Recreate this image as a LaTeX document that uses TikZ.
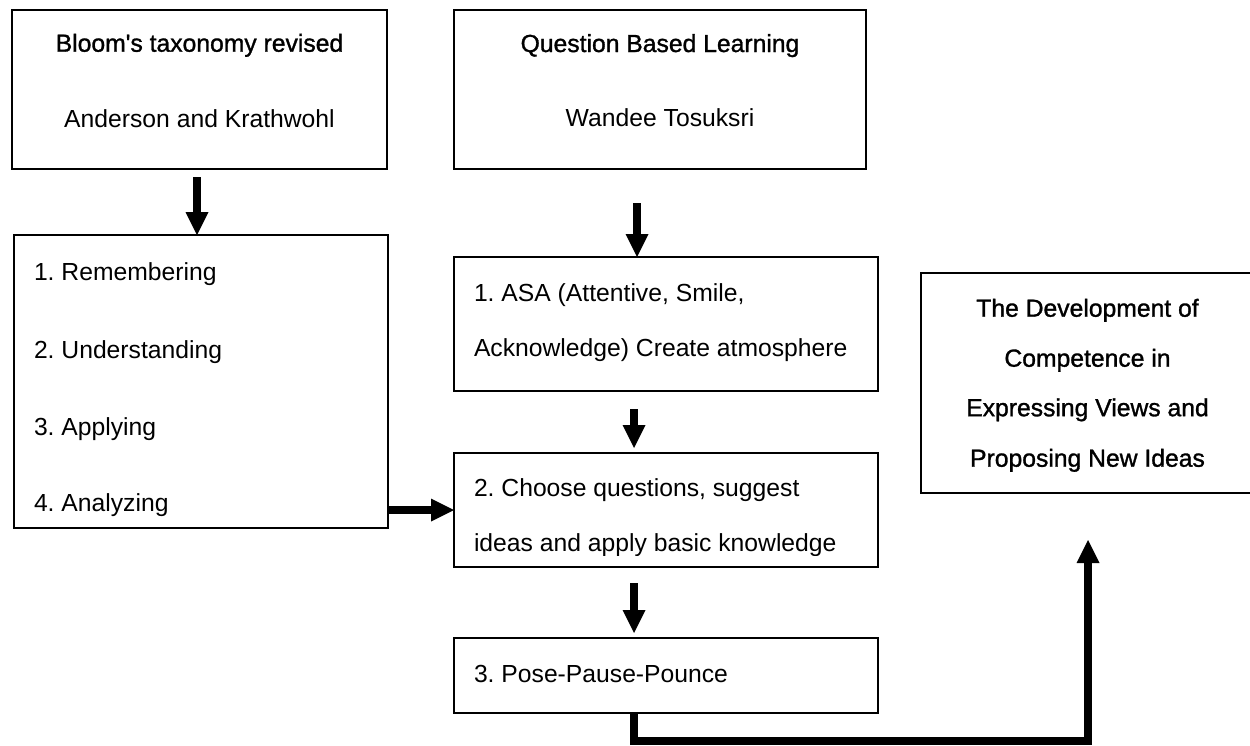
\documentclass[tikz,border=0pt]{standalone}
\usepackage{fontspec}
\setmainfont{Liberation Sans}
\newfontfamily\boldish{Liberation Sans}[FakeBold=1.2]
\usetikzlibrary{arrows.meta,calc}
\frenchspacing
\begin{document}
\begin{tikzpicture}[x=1pt,y=-1pt,
  box/.style={draw, line width=2.5pt, inner sep=0pt, outer sep=0pt},
  txt/.style={inner sep=0pt, outer sep=0pt, font=\frenchspacing\fontsize{24.7}{30}\selectfont},
  ttl/.style={inner sep=0pt, outer sep=0pt, font=\frenchspacing\boldish\fontsize{24.7}{30}\selectfont},
  conn/.style={line width=8pt, -{Triangle[width=23pt,length=23pt,line width=0pt]}}]
\useasboundingbox (0,0) rectangle (1250,745);
\fill[white] (0,0) rectangle (1250,745);

% boxes
\node[box, minimum width=375pt, minimum height=159pt] (A) at (199.5,89.5) {};
\node[box, minimum width=412pt, minimum height=159pt] (Q) at (660,89.5) {};
\node[box, minimum width=374pt, minimum height=293pt] (B) at (201,381.5) {};
\node[box, minimum width=424pt, minimum height=134pt] (C) at (666,324) {};
\node[box, minimum width=424pt, minimum height=114pt] (D) at (666,510) {};
\node[box, minimum width=424pt, minimum height=75pt] (E) at (666,675.5) {};
\node[box, minimum width=333pt, minimum height=220pt] (F) at (1087.5,383) {};

% texts
\node[ttl, anchor=base] (a1) at (199.5,51.7) {Bloom's taxonomy revised};
\node[txt, anchor=base] (a2) at (199.5,127.3) {Anderson and Krathwohl};
\node[ttl, anchor=base] (q1) at (660,52) {Question Based Learning};
\node[txt, anchor=base] (q2) at (660,126.7) {Wandee Tosuksri};

\node[txt, anchor=base west] (b1) at (34,280) {1. Remembering};
\node[txt, anchor=base west] (b2) at (34,358.3) {2. Understanding};
\node[txt, anchor=base west] (b3) at (34,435) {3. Applying};
\node[txt, anchor=base west] (b4) at (34,511.7) {4. Analyzing};

\node[txt, anchor=base west] (c1) at (474,301) {1. ASA (Attentive, Smile,};
\node[txt, anchor=base west] (c2) at (474,356.7) {Acknowledge) Create atmosphere};

\node[txt, anchor=base west] (d1) at (474,496.7) {2. Choose questions, suggest};
\begin{scope}
\clip (454,450) rectangle (878,555);
\node[txt, anchor=base west] (d2) at (474,551.7) {ideas and apply basic knowledge};
\end{scope}

\node[txt, anchor=base west] (e1) at (474,682.7) {3. Pose-Pause-Pounce};

\node[ttl, anchor=base] (f1) at (1087.5,316.7) {The Development of};
\node[ttl, anchor=base] (f2) at (1087.5,366.7) {Competence in};
\node[ttl, anchor=base] (f3) at (1087.5,416.2) {Expressing Views and};
\node[ttl, anchor=base] (f4) at (1087.5,466.7) {Proposing New Ideas};

% connectors
\draw[conn] ($(A.south)+(-2.5,8)$) -- ($(B.north)+(-4,0)$);
\draw[conn] ($(Q.south)+(-23,34)$) -- ($(C.north)+(-29,0)$);
\draw[conn] ($(C.south)+(-32,18)$) -- ($(D.north)+(-32,-5)$);
\draw[conn] ($(D.south)+(-32,16)$) -- ($(E.north)+(-32,-5)$);
\draw[conn] ($(B.south east)+(0,-18)$) -- (D.west);
\draw[conn] ($(E.south)+(-32,0)$) -- ++(0,28) -| ($(F.south)+(0.5,47)$);
\end{tikzpicture}
\end{document}
